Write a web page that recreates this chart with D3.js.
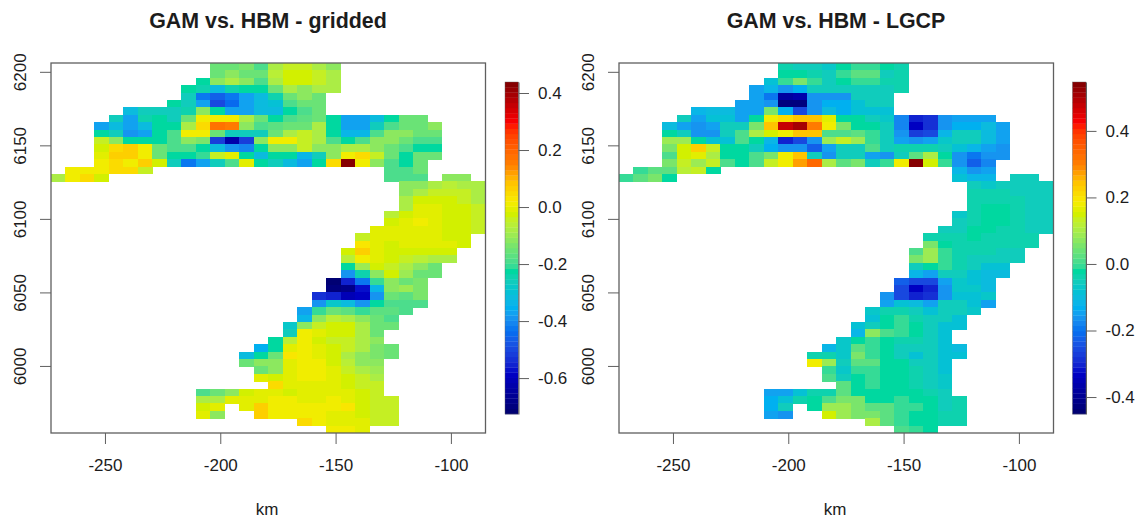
<!DOCTYPE html>
<html lang="en">
<head>
<meta charset="utf-8">
<title>GAM vs. HBM</title>
<script src="https://cdnjs.cloudflare.com/ajax/libs/d3/7.0.0/d3.min.js"></script>
<style>
  html, body { margin: 0; padding: 0; background: #fff; }
  svg { display: block; }
  text { font-family: "Liberation Sans", Arial, sans-serif; fill: #1c1c1c; }
</style>
</head>
<body>
<svg id="chart" width="1139" height="519"></svg>
<script>
const gap = n => Array(n).fill(null);

// first column of each of the 50 rows, top row first
const griddedStart = [11,11,10,9,9,8,5,4,3,3,3,3,3,3,1,0,24,24,24,24,23,23,22,21,21,20,20,20,20,19,19,18,18,17,17,16,16,15,14,13,13,14,14,15,10,10,10,10,17,19];
const griddedRows = [
  [-.145,-.145,-.13,-.185,-.08,-.05,-.05,-.08,-.11],
  [-.145,-.11,-.145,-.16,-.065,-.03,-.03,-.045,-.08],
  [-.225,-.12,-.08,-.11,-.185,-.08,-.03,-.03,-.05,-.08],
  [-.225,-.24,-.32,-.25,-.225,-.225,-.145,-.08,-.11,-.08,-.08],
  [-.27,-.42,-.46,-.42,-.365,-.32,-.25,-.145,-.11,-.145],
  [-.225,-.27,-.365,-.50,-.45,-.365,-.32,-.30,-.185,-.145,-.145],
  [-.32,-.27,-.27,-.27,-.25,-.11,-.225,-.365,-.365,-.32,-.32,-.225,-.185,-.145],
  [-.27,-.365,-.25,-.225,-.27,-.145,.015,.015,.015,-.08,-.145,-.225,-.185,-.165,-.145,-.225,-.365,-.365,-.32,-.225,-.145,-.145],
  [-.365,-.32,-.365,-.32,-.225,-.225,-.08,.05,.17,.148,-.11,-.185,-.175,-.145,-.145,-.08,-.225,-.38,-.38,-.27,-.185,-.145,-.145,-.11],
  [-.225,-.27,-.39,-.365,-.225,-.185,.015,.015,-.145,-.27,-.27,-.27,-.145,-.08,-.05,-.08,-.225,-.33,-.33,-.185,-.11,-.11,-.145,-.145],
  [-.05,-.11,-.225,-.225,-.225,-.185,-.11,-.13,-.52,-.63,-.52,-.11,.015,.015,-.05,-.08,-.185,-.225,-.185,-.11,-.11,-.145,-.185,-.185],
  [-.03,.04,.07,.015,-.145,-.185,-.185,-.225,-.32,-.39,-.41,-.225,-.11,-.11,-.05,-.11,-.11,-.08,-.08,-.11,-.145,-.185,-.225,-.225],
  [-.01,.07,.07,.015,-.145,-.225,-.225,-.205,-.05,-.01,-.225,-.32,-.225,-.225,-.33,-.27,-.11,.015,.04,-.05,-.145,-.225,-.145,-.145],
  [.015,.05,.015,.06,-.03,-.27,-.42,-.365,-.27,-.185,-.01,-.225,-.27,-.32,-.365,-.225,.05,.43,.015,-.11,-.185,-.225,-.145],
  [.015,.015,.015,.05,.05,-.035,...gap(16),-.185,-.185,-.145],
  [-.08,.015,.04,-.02,...gap(19),-.185,-.185,-.185,null,-.11,-.11],
  [-.11,-.11,-.08,-.06,-.08,-.08],
  [-.11,-.08,-.05,-.05,-.05,-.08],
  [-.08,-.03,-.03,-.03,-.05,-.08],
  [-.08,-.01,-.01,-.03,-.03,-.05],
  [-.06,-.03,-.01,-.01,-.03,-.03,-.05],
  [-.03,-.015,.015,-.01,-.03,-.03,-.05],
  [-.01,-.01,-.01,-.01,-.01,-.03,-.03,-.05],
  [-.05,-.01,-.01,-.01,-.01,-.01,-.03,-.03],
  [.03,-.01,-.025,-.01,-.01,-.01,-.015,-.03],
  [-.03,.06,-.01,-.03,-.03,-.03,-.03,-.03],
  [-.07,.02,-.01,-.03,-.05,-.06,-.08,-.08],
  [-.225,-.10,-.03,-.05,-.08,-.11,-.145],
  [-.39,-.235,-.11,-.03,-.10,-.145,-.145],
  [-.72,-.55,-.43,-.205,-.11,-.145,-.13],
  [-.70,-.68,-.58,-.33,-.11,-.10,-.13],
  [-.54,-.56,-.60,-.59,-.39,-.145,-.17,-.14],
  [-.39,-.28,-.31,-.39,-.225,-.185,-.185,-.185],
  [-.365,-.21,-.145,-.165,-.21,-.18,-.165,-.185],
  [-.33,-.11,-.07,-.08,-.11,-.145,-.185],
  [-.28,-.11,-.05,-.03,-.03,-.08,-.145,-.16],
  [-.27,.015,-.01,-.03,-.03,-.08,-.145],
  [-.225,-.055,.015,-.03,-.05,-.05,-.08,-.12],
  [-.35,-.225,-.01,.015,-.01,-.03,-.05,-.08,-.13,-.15],
  [-.32,-.225,-.145,.03,.015,-.01,-.03,-.08,-.11,-.13,-.15],
  [-.145,-.11,-.11,-.01,.015,.015,-.03,-.06,-.11,-.11],
  [-.16,-.11,-.01,.015,.015,-.01,-.05,-.08,-.10],
  [-.01,-.03,-.01,.015,.015,-.01,-.03,-.05,-.08],
  [.04,-.01,0,-.01,-.01,-.03,-.05,-.05],
  [-.185,-.15,-.11,-.03,-.01,-.01,-.03,-.01,-.01,-.01,-.01,-.03,-.05],
  [-.08,-.08,-.01,-.01,-.01,.015,.015,-.005,-.005,.015,-.005,-.03,-.05,-.05],
  [-.03,-.01,null,-.01,.06,.015,.015,.015,.015,.015,.025,-.03,-.05,-.05],
  [-.01,-.11,null,null,.07,.015,.015,.02,.015,-.005,-.01,-.03,-.05,-.05],
  [.05,.01,-.01,-.01,-.01,-.05,-.05],
  [.015,.015,-.01]
];

const lgcpStart = griddedStart;
const lgcpRows = [
  [-.04,-.05,-.05,-.07,-.02,-.01,-.01,-.02,-.04],
  [-.02,-.02,-.04,-.06,-.01,.02,.02,-.05,-.04],
  [-.09,-.01,.05,-.01,-.06,-.02,0,0,-.04,-.03],
  [-.14,-.11,-.165,-.13,-.06,-.06,-.06,-.06,-.06,-.05,-.04],
  [-.14,-.20,-.38,-.37,-.165,-.16,-.16,-.06,-.06,-.06],
  [-.14,-.14,-.16,-.43,-.42,-.16,-.13,-.13,-.08,-.06,-.06],
  [-.11,-.10,-.10,-.14,-.14,.05,-.13,-.25,-.16,-.10,-.13,-.08,-.08,-.08],
  [-.06,-.14,-.09,-.09,-.14,-.02,.185,.205,.24,.24,.165,-.02,-.02,-.05,-.07,-.175,-.31,-.29,-.165,-.14,-.14,-.14],
  [-.10,-.14,-.165,-.14,-.06,-.06,.05,.24,.48,.51,.30,.185,.05,-.02,-.02,-.05,-.18,-.33,-.29,-.165,-.13,-.13,-.10,-.15],
  [-.02,-.06,-.165,-.17,-.06,.015,.105,.15,.185,.24,.24,.015,.015,.03,0,-.05,-.165,-.27,-.25,-.12,-.06,-.06,-.10,-.14],
  [.08,.08,-.02,-.08,-.08,.015,-.02,-.12,-.30,-.26,-.165,.08,.13,.08,-.01,-.05,-.14,-.16,-.15,-.07,-.06,-.06,-.10,-.15],
  [.05,.15,.23,.13,-.02,-.02,-.05,-.13,-.165,-.16,-.22,-.14,-.06,-.06,.015,-.05,-.03,-.03,-.03,-.05,-.08,-.12,-.15,-.16],
  [.015,.15,.165,.105,-.02,-.02,.015,.05,.185,.24,-.06,-.165,-.06,-.06,-.14,-.165,-.05,.02,.105,-.02,-.165,-.19,-.165,-.165],
  [.05,.13,.08,.13,.015,-.02,.015,.13,.185,.27,.34,.105,.02,.05,-.06,0,.185,.54,.15,-.01,-.165,-.23,-.175],
  [0,.02,.02,.125,.13,-.02,...gap(16),-.11,-.16,-.15],
  [0,.03,.05,-.02,...gap(19),-.08,-.11,-.11,null,-.06,-.06],
  [-.05,-.07,-.06,-.06,-.06,-.05],
  [-.04,-.04,-.04,-.06,-.06,-.06],
  [-.04,-.03,-.03,-.04,-.06,-.06],
  [-.04,-.02,-.02,-.03,-.05,-.05],
  [-.07,-.04,-.02,-.02,-.04,-.06,-.06],
  [-.06,-.03,-.02,-.02,-.03,-.06,-.06],
  [-.06,-.05,-.02,-.02,-.03,-.04,-.06,-.06],
  [-.03,-.03,-.04,-.02,-.03,-.03,-.04,-.04],
  [.05,-.02,-.04,-.03,-.03,-.03,-.04,-.04],
  [.015,.08,0,-.04,-.04,-.04,-.05,-.06],
  [.05,.08,0,-.04,-.05,-.05,-.06,-.06],
  [-.05,-.02,0,-.04,-.06,-.085,-.09],
  [-.11,-.14,-.06,-.06,-.08,-.095,-.10],
  [-.22,-.26,-.26,-.14,-.07,-.08,-.10],
  [-.25,-.33,-.30,-.165,-.07,-.07,-.10],
  [-.165,-.26,-.30,-.29,-.165,-.08,-.08,-.07],
  [-.14,-.08,-.10,-.14,-.06,-.06,-.08,-.14],
  [-.07,-.03,-.03,-.06,-.08,-.06,-.06,-.07],
  [-.09,-.02,0,-.03,-.05,-.06,-.08],
  [-.09,-.06,-.02,0,-.02,-.05,-.08,-.08],
  [-.11,.07,.015,0,-.02,-.05,-.08],
  [-.07,-.02,0,-.02,-.04,-.04,-.06,-.08],
  [-.12,-.07,.03,0,-.02,-.05,-.05,-.05,-.08,-.10],
  [-.03,-.03,-.07,.05,0,-.02,-.05,-.08,-.05,-.08,-.08],
  [.185,.08,-.06,.03,.03,-.02,-.02,-.05,-.05,-.08],
  [0,-.07,0,0,-.02,-.02,-.04,-.05,-.08],
  [.015,-.06,-.02,0,-.02,-.02,-.03,-.05,-.07],
  [.03,-.02,0,-.02,-.02,-.03,-.05,-.07],
  [-.14,-.14,-.08,-.03,-.03,.03,-.02,-.02,-.02,-.02,-.02,-.03,-.05],
  [-.13,-.09,-.04,-.02,.015,.05,.05,-.02,-.02,0,-.02,-.02,-.05,-.04],
  [-.13,-.06,null,-.02,.08,.08,.06,.03,.03,0,0,-.02,-.05,-.04],
  [-.14,-.165,null,null,.15,.08,.06,.05,.03,0,-.02,-.02,-.04,-.04],
  [.105,.03,0,-.02,-.02,-.04,-.04],
  [.015,0,-.02]
];

const xTicks = [-250, -200, -150, -100];
const yTicks = [6000, 6050, 6100, 6150, 6200];
const griddedLegendTicks = [-0.6, -0.4, -0.2, 0, 0.2, 0.4];
const lgcpLegendTicks = [-0.4, -0.2, 0, 0.2, 0.4];

const rampStops = [0, .125, .25, .32, .375, .43, .5, .56, .6, .64, .7, .75, .875, 1];
const rampColors = ["#00006e","#0000c8","#0070f0","#00b0f0","#00c4d0","#00d8a0","#70e470","#b0ee40","#d0f000","#f8ec00","#ffc000","#ff8000","#ff0000","#7f0000"];
const ramp = d3.scaleLinear().domain(rampStops).range(rampColors).interpolate(d3.interpolateLab);
const palette = d3.range(64).map(i => ramp((i + .5) / 64));

const svg = d3.select("#chart");
const lineColor = "#5f5f5f";

function styleAxis(g) {
  g.selectAll("line").attr("stroke", lineColor);
  g.selectAll("text").style("font-size", "17px").attr("fill", "#1c1c1c");
}

function drawPanel(o) {
  const x = d3.scaleLinear().domain([-273.4, -85]).range([o.left, o.left + 434.5]);
  const y = d3.scaleLinear().domain([5954.4, 6206]).range([433, 63]);
  const color = d3.scaleQuantize().domain(o.range).range(palette);
  const colKm = 6.28, rowKm = 5.032;

  const cells = [];
  o.rows.forEach((row, j) => row.forEach((v, k) => {
    if (v !== null) cells.push({ i: o.start[j] + k, j, v });
  }));

  svg.append("g").attr("shape-rendering", "crispEdges")
    .selectAll("rect").data(cells).enter().append("rect")
    .attr("x", d => x(-273.4 + d.i * colKm))
    .attr("y", d => y(6206 - d.j * rowKm))
    .attr("width", x(colKm) - x(0) + .3)
    .attr("height", y(0) - y(rowKm) + .3)
    .attr("fill", d => color(d.v));

  svg.append("rect")
    .attr("x", o.left).attr("y", 63)
    .attr("width", 434.5).attr("height", 370)
    .attr("fill", "none").attr("stroke", lineColor).attr("stroke-width", 1.3);

  svg.append("g").attr("transform", "translate(0,433)")
    .call(d3.axisBottom(x).tickValues(xTicks).tickFormat(d => String(d)).tickSize(11).tickSizeOuter(0).tickPadding(15))
    .call(g => g.select(".domain").remove())
    .call(styleAxis);

  const yAxis = svg.append("g").attr("transform", `translate(${o.left},0)`)
    .call(d3.axisLeft(y).tickValues(yTicks).tickFormat(d => String(d)).tickSize(11).tickSizeOuter(0))
    .call(g => g.select(".domain").remove())
    .call(styleAxis);
  yAxis.selectAll("text")
    .attr("text-anchor", "middle")
    .attr("dy", 0)
    .attr("x", 0).attr("y", 0)
    .attr("transform", "translate(-25,0) rotate(-90)");

  svg.append("text").attr("x", o.left + 217).attr("y", 27.5)
    .attr("text-anchor", "middle")
    .style("font-size", "21.4px").style("font-weight", "bold").text(o.title);
  svg.append("text").attr("x", o.left + 216).attr("y", 515)
    .attr("text-anchor", "middle").style("font-size", "17px").text("km");

  // colour key
  const legendY = d3.scaleLinear().domain(o.range).range([414, 82]);
  const step = (o.range[1] - o.range[0]) / 64;
  svg.append("g").selectAll("rect").data(palette).enter().append("rect")
    .attr("x", o.keyLeft).attr("width", 13.5)
    .attr("y", (d, i) => legendY(o.range[0] + (i + 1) * step))
    .attr("height", legendY(0) - legendY(step) + .3)
    .attr("fill", d => d);
  svg.append("rect")
    .attr("x", o.keyLeft).attr("y", 82).attr("width", 13.5).attr("height", 332)
    .attr("fill", "none").attr("stroke", lineColor).attr("stroke-width", .4);

  svg.append("g").attr("transform", `translate(${o.keyLeft + 13.5},0)`)
    .call(d3.axisRight(legendY).tickValues(o.legendTicks).tickFormat(d => d.toFixed(1)).tickSize(10.5).tickSizeOuter(0).tickPadding(9))
    .call(g => g.select(".domain").attr("stroke", lineColor))
    .call(styleAxis);
}

drawPanel({
  title: "GAM vs. HBM - gridded", left: 51, keyLeft: 505,
  range: [-0.726, 0.4386], start: griddedStart, rows: griddedRows, legendTicks: griddedLegendTicks
});
drawPanel({
  title: "GAM vs. HBM - LGCP", left: 619, keyLeft: 1072.5,
  range: [-0.451, 0.547], start: lgcpStart, rows: lgcpRows, legendTicks: lgcpLegendTicks
});
</script>
</body>
</html>
